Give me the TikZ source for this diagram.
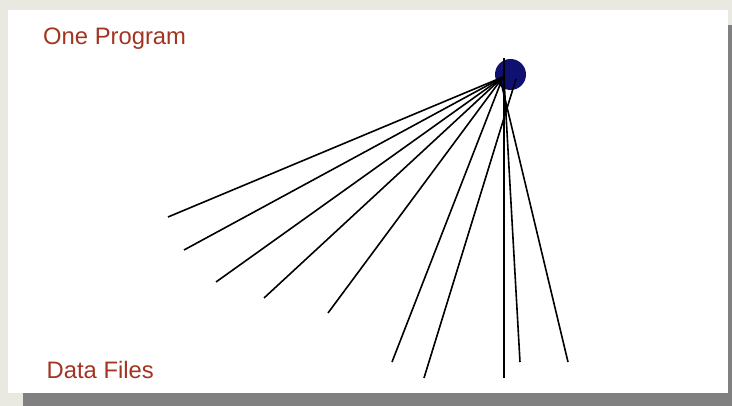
\documentclass[tikz,border=0pt]{standalone}
\usepackage{fontspec}
\setmainfont{Liberation Sans}
\definecolor{slidebg}{RGB}{233,233,225}
\definecolor{shadowgray}{RGB}{128,128,128}
\definecolor{titlered}{RGB}{163,52,34}
\definecolor{blobblue}{RGB}{16,16,112}

\begin{document}
\begin{tikzpicture}[x=1pt,y=-1pt,
  fan/.style={line width=1.6pt},
  slidetext/.style={text=titlered,font=\fontsize{23.8}{28}\selectfont,anchor=base west,inner sep=0pt}]
  % slide with its shadow
  \fill[slidebg] (0,0) rectangle (732,406);
  \fill[shadowgray] (23,25) rectangle (732,406);
  \fill[white] (8,10) rectangle (728,393);
  \useasboundingbox (0,0) rectangle (732,406);

  \node[slidetext] (prog-title) at (43,44.5) {One Program};
  \node[slidetext] (data-title) at (46.5,379) {Data Files};

  \node[circle,fill=blobblue,minimum size=31pt,inner sep=0pt] (prog) at (510.5,74.5) {};

  \coordinate (hub) at (503,77);
  \coordinate (hubr) at (516,79);
  \coordinate (hubm) at (504,79);
  \coordinate (hubl) at (500,78);
  \coordinate (top) at (504,58);
  \foreach \n/\x/\y in {1/168/217,2/184/250,3/216/282,4/264/298,5/328/313,
                        6/392/362,7/424/378,8/504/378,9/520/362,10/568/362}
    \coordinate (d\n) at (\x,\y);

  \foreach \n in {1,...,6}
    \draw[fan] (hub) -- (d\n);
  \draw[fan] (hubr) -- (d7);
  \draw[fan] (top) -- (d8);
  \draw[fan] (hubm) -- (d9);
  \draw[fan] (hubl) -- (d10);
\end{tikzpicture}
\end{document}
